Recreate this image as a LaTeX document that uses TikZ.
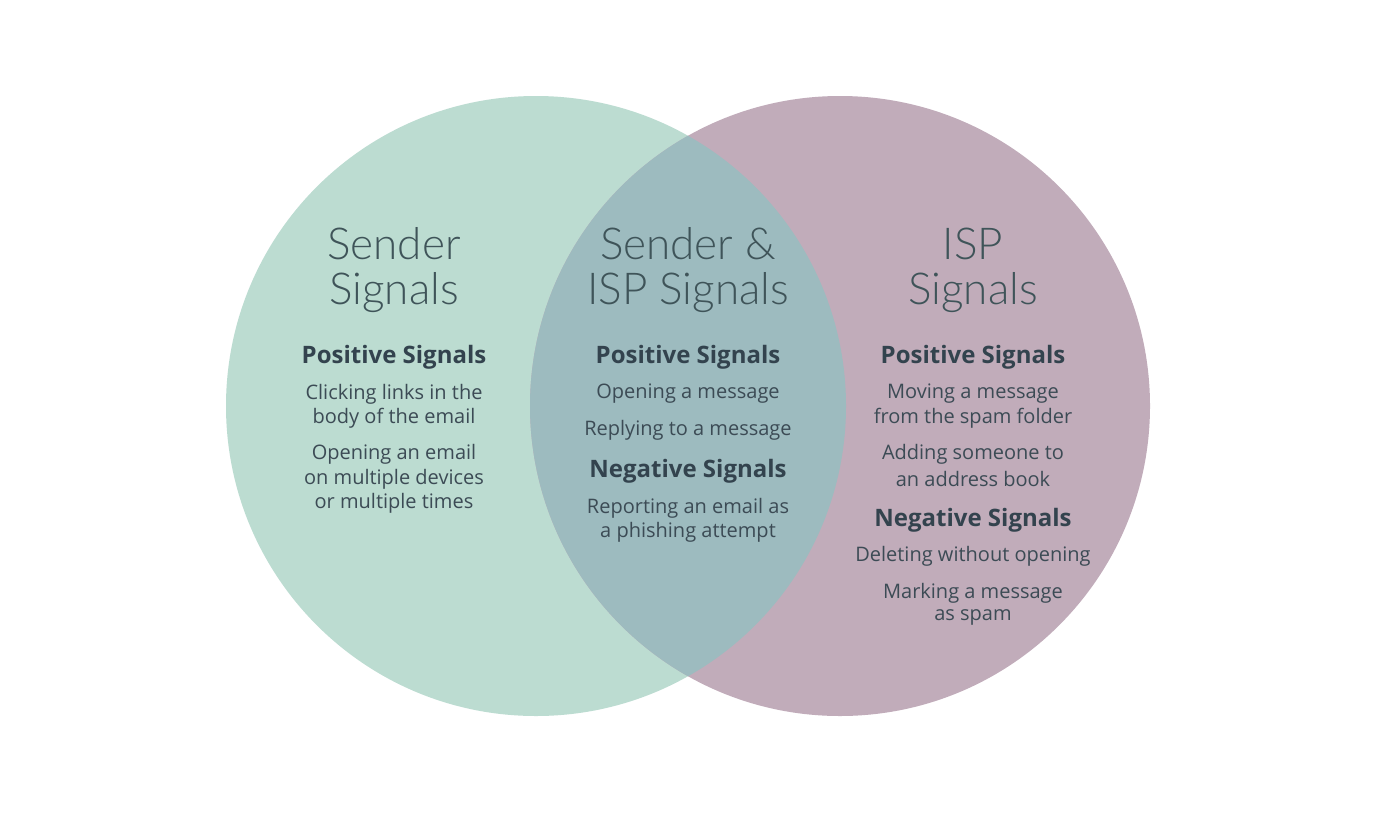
\documentclass[tikz,border=0pt]{standalone}
\usepackage{fontspec}
\setmainfont{Open Sans}
\newfontfamily\titlefont{Lato Light}
\definecolor{cgreen}{HTML}{BCDCD1}
\definecolor{cpurple}{HTML}{C1ACBA}
\definecolor{cover}{HTML}{9DBBBF}
\definecolor{ctitle}{HTML}{3F5459}
\definecolor{chead}{HTML}{33434E}
\definecolor{cbody}{HTML}{3C4B55}
\tikzset{
  ttl/.style={font=\titlefont\fontsize{44}{48}\selectfont, text=ctitle, inner sep=0pt},
  hd/.style={font=\bfseries\fontsize{24}{26}\selectfont, text=chead, inner sep=0pt},
  bd/.style={font=\fontsize{20}{24}\selectfont, text=cbody, inner sep=0pt},
}
\begin{document}
\begin{tikzpicture}[x=1pt,y=-1pt]
\useasboundingbox (0,0) rectangle (1380,830);
\fill[white] (0,0) rectangle (1380,830);
\fill[cgreen] (536,406) circle (310);
\fill[cpurple] (840,406) circle (310);
\begin{scope}
  \clip (536,406) circle (310);
  \fill[cover] (840,406) circle (310);
\end{scope}
% left
\node[ttl] (lt1) at (394,244) {Sender};
\node[ttl] (lt2) at (394,293) {Signals};
\node[hd] (lh1) at (394,357) {Positive Signals};
\node[bd] (lb1) at (394,394) {Clicking links in the};
\node[bd] (lb2) at (394,418) {body of the email};
\node[bd] (lb3) at (394,454) {Opening an email};
\node[bd] (lb4) at (394,479) {on multiple devices};
\node[bd] (lb5) at (394,503) {or multiple times};
% middle
\node[ttl] (mt1) at (688,244) {Sender \&};
\node[ttl] (mt2) at (688,293) {ISP Signals};
\node[hd] (mh1) at (688,357) {Positive Signals};
\node[bd] (mb1) at (688,394) {Opening a message};
\node[bd] (mb2) at (688,430) {Replying to a message};
\node[hd] (mh2) at (688,471) {Negative Signals};
\node[bd] (mb3) at (688,508) {Reporting an email as};
\node[bd] (mb4) at (688,532) {a phishing attempt};
% right
\node[ttl] (rt1) at (973,244) {ISP};
\node[ttl] (rt2) at (973,293) {Signals};
\node[hd] (rh1) at (973,357) {Positive Signals};
\node[bd] (rb1) at (973,394) {Moving a message};
\node[bd] (rb2) at (973,418) {from the spam folder};
\node[bd] (rb3) at (973,454) {Adding someone to};
\node[bd] (rb4) at (973,479) {an address book};
\node[hd] (rh2) at (973,520) {Negative Signals};
\node[bd] (rb5) at (973,556) {Deleting without opening};
\node[bd] (rb6) at (973,593) {Marking a message};
\node[bd] (rb7) at (973,617) {as spam};
\end{tikzpicture}
\end{document}
